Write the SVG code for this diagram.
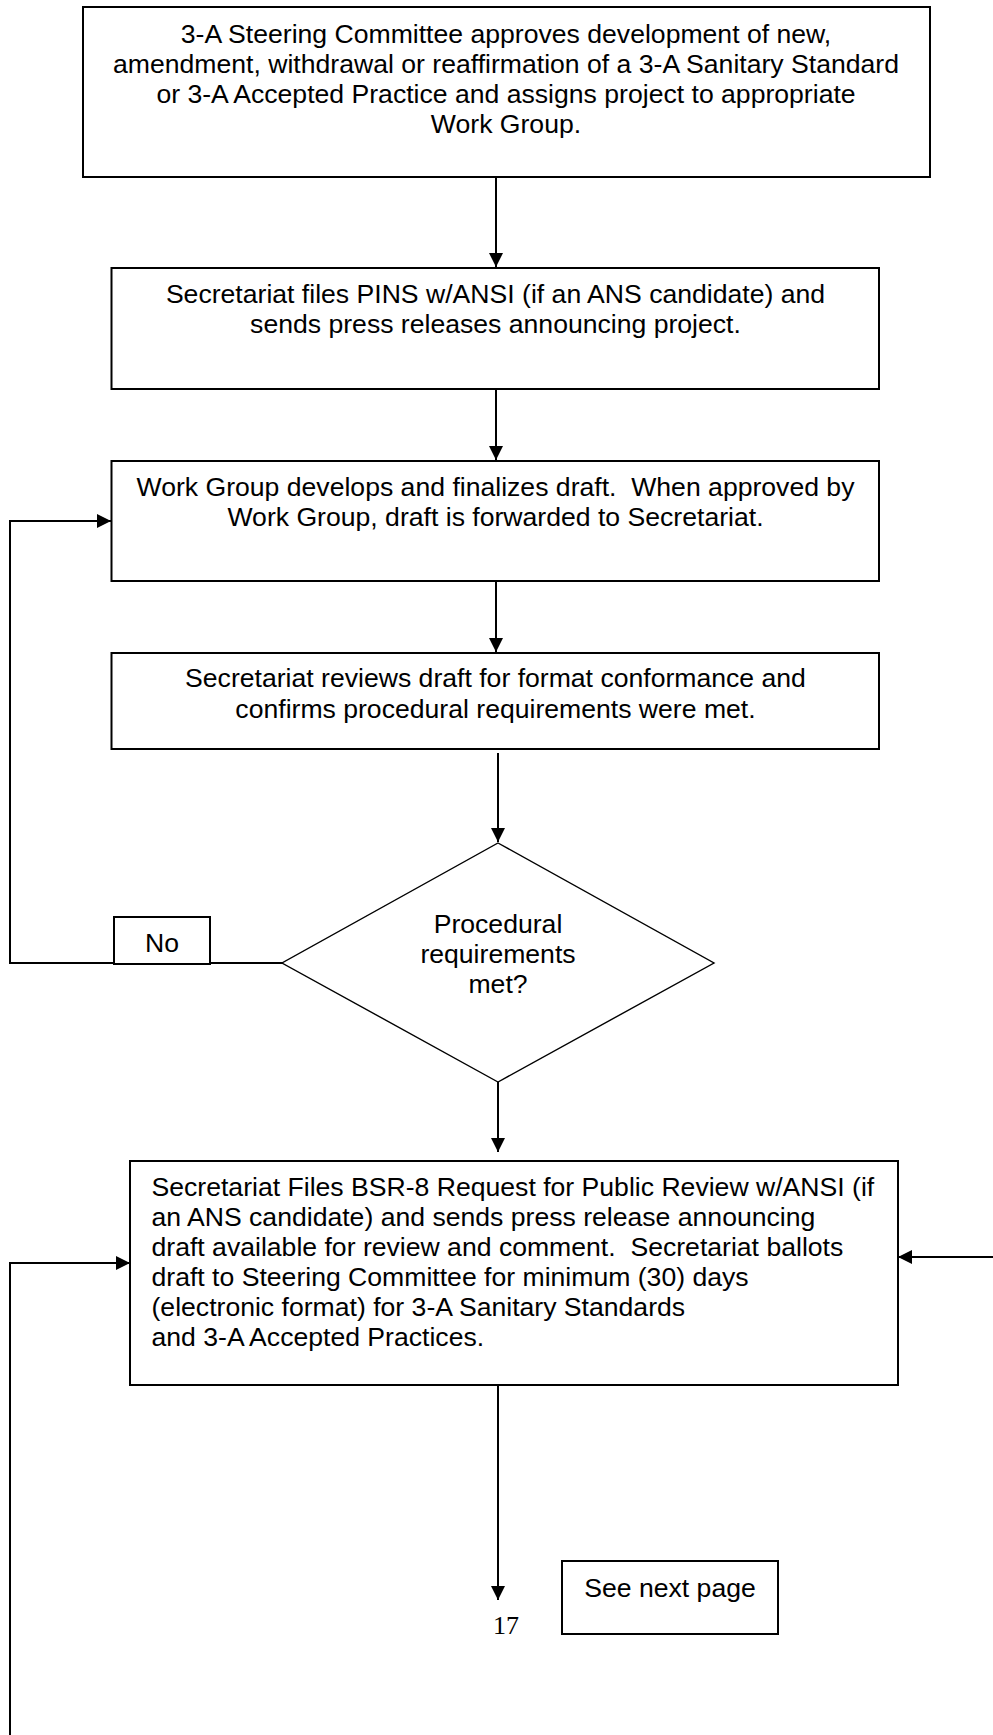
<svg xmlns="http://www.w3.org/2000/svg" width="993" height="1735" viewBox="0 0 993 1735">
<style>
  .box { fill: #fff; stroke: #000; stroke-width: 2; }
  .dia { fill: #fff; stroke: #000; stroke-width: 1.4; }
  .t { font-family: "Liberation Sans", Arial, sans-serif; font-size: 26.6px; fill: #000; }
  .c { text-anchor: middle; }
  .serif { font-family: "Liberation Serif", "Times New Roman", serif; font-size: 26px; fill: #000; }
  .conn { fill: none; stroke: #000; stroke-width: 2; }
</style>
<defs>
  <marker id="arr" markerUnits="userSpaceOnUse" markerWidth="14" markerHeight="14" refX="14" refY="7" orient="auto">
    <path d="M0,0 L14,7 L0,14 z" fill="#000"/>
  </marker>
</defs>
<rect width="993" height="1735" fill="#fff"/>

<g id="connectors">
  <line class="conn" x1="496" y1="177" x2="496" y2="267" marker-end="url(#arr)"/>
  <line class="conn" x1="496" y1="389" x2="496" y2="460" marker-end="url(#arr)"/>
  <line class="conn" x1="496" y1="581" x2="496" y2="652" marker-end="url(#arr)"/>
  <line class="conn" x1="498" y1="753" x2="498" y2="842" marker-end="url(#arr)"/>
  <polyline class="conn" points="282,963 10,963 10,521 111,521" marker-end="url(#arr)"/>
  <line class="conn" x1="498" y1="1082" x2="498" y2="1152" marker-end="url(#arr)"/>
  <line class="conn" x1="993" y1="1257" x2="898" y2="1257" marker-end="url(#arr)"/>
  <polyline class="conn" points="10,1735 10,1263 130,1263" marker-end="url(#arr)"/>
  <line class="conn" x1="498" y1="1385" x2="498" y2="1600" marker-end="url(#arr)"/>
</g>

<g id="n1">
  <rect class="box" x="83" y="7" width="847" height="170"/>
  <text class="t c" x="506" y="43">3-A Steering Committee approves development of new,</text>
  <text class="t c" x="506" y="73">amendment, withdrawal or reaffirmation of a 3-A Sanitary Standard</text>
  <text class="t c" x="506" y="103">or 3-A Accepted Practice and assigns project to appropriate</text>
  <text class="t c" x="506" y="133">Work Group.</text>
</g>

<g id="n2">
  <rect class="box" x="111.5" y="268" width="767.5" height="121"/>
  <text class="t c" x="495.5" y="303">Secretariat files PINS w/ANSI (if an ANS candidate) and</text>
  <text class="t c" x="495.5" y="333">sends press releases announcing project.</text>
</g>

<g id="n3">
  <rect class="box" x="111.5" y="461" width="767.5" height="120"/>
  <text class="t c" x="495.5" y="496" xml:space="preserve">Work Group develops and finalizes draft.  When approved by</text>
  <text class="t c" x="495.5" y="526">Work Group, draft is forwarded to Secretariat.</text>
</g>

<g id="n4">
  <rect class="box" x="111.5" y="653" width="767.5" height="96"/>
  <text class="t c" x="495.5" y="687">Secretariat reviews draft for format conformance and</text>
  <text class="t c" x="495.5" y="718">confirms procedural requirements were met.</text>
</g>

<g id="n5">
  <polygon class="dia" points="498,843 714,963 498,1082 282,963"/>
  <text class="t c" x="498" y="933">Procedural</text>
  <text class="t c" x="498" y="963">requirements</text>
  <text class="t c" x="498" y="993">met?</text>
</g>

<g id="n6">
  <rect class="box" x="114" y="917" width="96" height="47"/>
  <text class="t c" x="162" y="952">No</text>
</g>

<g id="n7">
  <rect class="box" x="130" y="1161" width="768" height="224"/>
  <text class="t" x="151.5" y="1196">Secretariat Files BSR-8 Request for Public Review w/ANSI (if</text>
  <text class="t" x="151.5" y="1226">an ANS candidate) and sends press release announcing</text>
  <text class="t" x="151.5" y="1256" xml:space="preserve">draft available for review and comment.  Secretariat ballots</text>
  <text class="t" x="151.5" y="1286">draft to Steering Committee for minimum (30) days</text>
  <text class="t" x="151.5" y="1316">(electronic format) for 3-A Sanitary Standards</text>
  <text class="t" x="151.5" y="1346">and 3-A Accepted Practices.</text>
</g>

<g id="n8">
  <rect class="box" x="562" y="1561" width="216" height="73"/>
  <text class="t c" x="670" y="1597">See next page</text>
</g>

<g id="page">
  <text class="serif" x="493" y="1634">17</text>
</g>
</svg>
